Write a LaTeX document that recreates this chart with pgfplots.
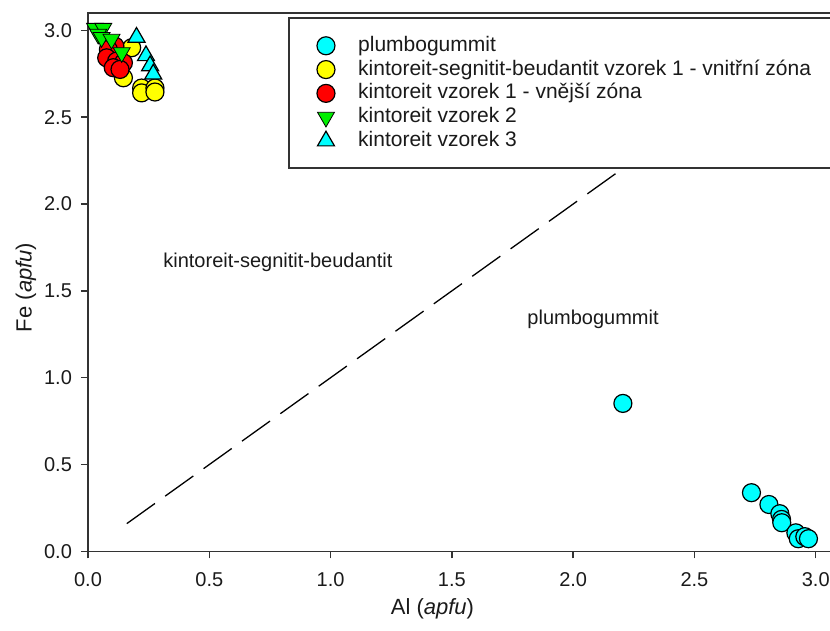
\documentclass[border=0pt]{standalone}
\usepackage{pgfplots}
\pgfplotsset{compat=1.18}
\usepackage{fontspec}
\setmainfont{Liberation Sans}
\definecolor{axc}{HTML}{333333}
\definecolor{txc}{HTML}{1A1A1A}
\definecolor{cy}{HTML}{00FFFF}
\definecolor{ye}{HTML}{FFFF00}
\definecolor{re}{HTML}{FF0000}
\definecolor{gr}{HTML}{00F000}
\pgfplotsset{
  pts/.style={only marks, mark size=4.5pt,
    mark options={draw=black, line width=0.6pt, solid},
    legend image code/.code={\path[draw=none,fill=none] (0pt,-3pt) rectangle (13.3pt,3pt); \draw[mark repeat=2,mark phase=2,##1] plot coordinates {(0pt,0pt)(8.3pt,0pt)(13.3pt,0pt)};}},
}
\begin{document}
\begin{tikzpicture}
\begin{axis}[
  name=ax,
  scale only axis,
  width=376pt, height=269.2pt,
  xmin=0, xmax=3.1, ymin=0, ymax=3.1,
  xtick={0,0.5,...,3.0}, ytick={0,0.5,...,3.0},
  tick align=outside, xtick pos=bottom, ytick pos=left,
  major tick length=3.5pt,
  axis line style={axc, line width=0.75pt},
  every tick/.style={axc, line width=0.75pt},
  tick label style={font=\fontsize{10}{12}\selectfont, text=txc},
  xticklabel style={yshift=-3.5pt},
  yticklabel style={xshift=-1pt},
  /pgf/number format/.cd, fixed, fixed zerofill, precision=1, assume math mode=true, /pgfplots/.cd,
  xlabel={Al (\textit{apfu})}, ylabel={Fe (\textit{apfu})},
  label style={font=\fontsize{11}{13}\selectfont, text=txc},
  xlabel style={at={(axis cs:1.42,0)}, anchor=center, yshift=-28.5pt},
  ylabel style={at={(axis cs:0,1.52)}, anchor=center, yshift=31pt},
  clip=false,
  legend style={at={(axis cs:0.8285,3.0725)}, anchor=north west,
    draw=none, fill=none,
    inner xsep=10pt, inner ysep=7.85pt,
    font=\fontsize{10.5}{11.9}\selectfont, text=txc,
    row sep=0pt, column sep=9.9pt,
    nodes={inner sep=1.2pt, text height=7.5pt, text depth=2pt}},
  legend cell align=left,
]
\addplot[dashed, dash pattern=on 17.3pt off 6.3pt, line width=0.65pt, black, forget plot] coordinates {(0.16,0.16) (2.9,2.9)};
\draw[axc, line width=0.75pt, fill=white] (axis cs:3.3,3.0725) -- (axis cs:0.8285,3.0725) -- (axis cs:0.8285,2.208) -- (axis cs:3.3,2.208);
\addplot[pts, mark=*, fill=cy] coordinates {
(2.205,0.852) (2.735,0.338) (2.807,0.27) (2.852,0.217) (2.859,0.184) (2.86,0.165)
(2.918,0.107) (2.928,0.073) (2.955,0.085) (2.97,0.073)};
\addlegendentry{plumbogummit}
\addplot[pts, mark=*, fill=ye] coordinates {
(0.18,2.9) (0.146,2.727) (0.221,2.668) (0.221,2.64) (0.276,2.668) (0.276,2.645)};
\addlegendentry{kintoreit-segnitit-beudantit vzorek 1 - vnitřní zóna}
\addplot[pts, mark=*, fill=re] coordinates {
(0.111,2.909) (0.084,2.89) (0.077,2.842) (0.118,2.823) (0.146,2.813) (0.104,2.785) (0.132,2.775)};
\addlegendentry{kintoreit vzorek 1 - vnější zóna}
\addplot[pts, mark size=4.9pt, mark=triangle*, fill=gr, mark options={rotate=180}] coordinates {
(0.029,3.012) (0.063,3.012) (0.042,2.978) (0.056,2.959) (0.097,2.949) (0.139,2.872)};
\addlegendentry{kintoreit vzorek 2}
\addplot[pts, mark size=4.9pt, mark=triangle*, fill=cy] coordinates {
(0.2,2.96) (0.239,2.854) (0.256,2.796) (0.269,2.748)};
\addlegendentry{kintoreit vzorek 3}
\node[anchor=west, font=\fontsize{10}{12}\selectfont, text=txc, inner sep=0pt] at (axis cs:0.309,1.664) {kintoreit-segnitit-beudantit};
\node[anchor=west, font=\fontsize{10}{12}\selectfont, text=txc, inner sep=0pt] at (axis cs:1.81,1.336) {plumbogummit};
\end{axis}
\pgfresetboundingbox
\path[use as bounding box] ([xshift=-44pt,yshift=-39.5pt]ax.south west) rectangle ([xshift=371pt,yshift=6.5pt]ax.north west);
\end{tikzpicture}
\end{document}
